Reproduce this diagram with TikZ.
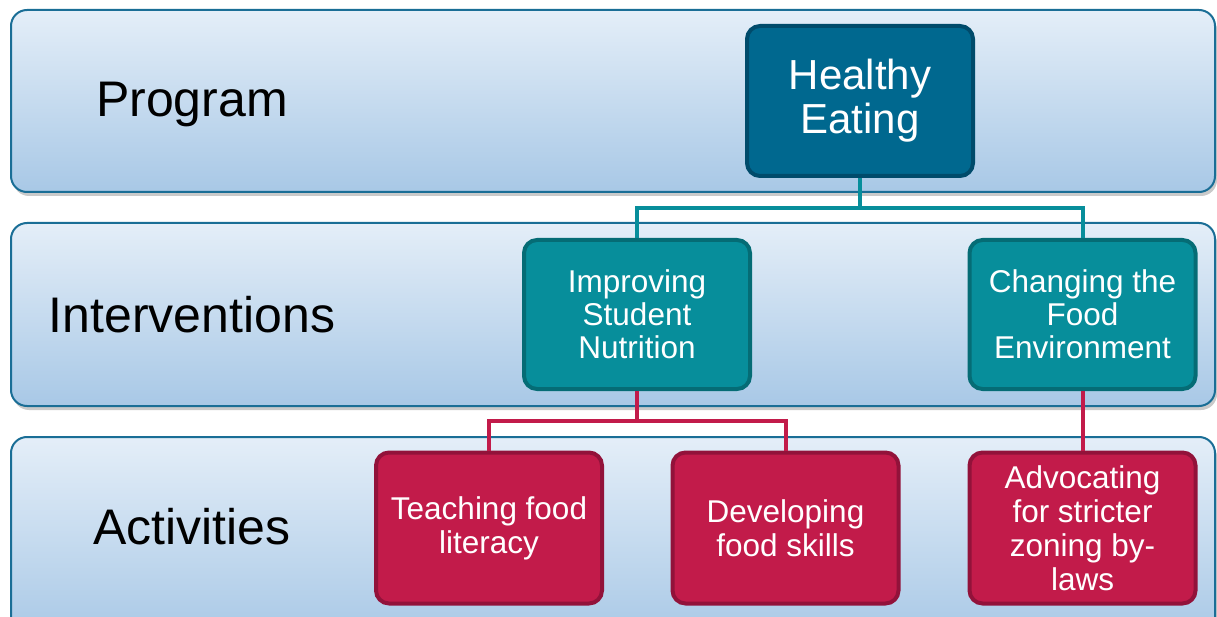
\documentclass[tikz,border=0pt]{standalone}
\usepackage{fontspec}
\setmainfont{Liberation Sans}
\usetikzlibrary{shadows}
\definecolor{bandline}{HTML}{1A6E96}
\definecolor{bandtop}{HTML}{E4EEF8}
\definecolor{bandbot}{HTML}{A8C8E6}
\definecolor{progfill}{HTML}{00688F}
\definecolor{progline}{HTML}{004B6B}
\definecolor{intfill}{HTML}{078E9B}
\definecolor{intline}{HTML}{056C75}
\definecolor{actfill}{HTML}{C21B4A}
\definecolor{actline}{HTML}{92123A}
\tikzset{
  band/.style={draw=bandline, line width=2pt, rounded corners=16pt,
    top color=bandtop, bottom color=bandbot,
    drop shadow={shadow xshift=2pt, shadow yshift=-4pt, opacity=0.35, fill=black!60}},
  bandlabel/.style={anchor=base, font=\fontsize{50}{60}\selectfont, text=black},
  boxnode/.style={rounded corners=13pt, line width=4pt, align=center, text=white,
    minimum width=226pt, inner sep=0pt},
  prognode/.style={boxnode, fill=progfill, draw=progline, minimum height=150pt,
    font=\fontsize{42}{44}\selectfont},
  intnode/.style={boxnode, fill=intfill, draw=intline, minimum height=149pt,
    font=\fontsize{31.5}{33}\selectfont},
  actnode/.style={boxnode, fill=actfill, draw=actline, minimum height=151pt,
    font=\fontsize{31.5}{34}\selectfont},
  intlink/.style={draw=intfill, line width=4pt},
  actlink/.style={draw=actfill, line width=4pt},
}
\begin{document}
\begin{tikzpicture}[x=1pt, y=-1pt]
\useasboundingbox (0,0) rectangle (1217,617);

% three horizontal level bands
\path[band] (11,10) rectangle (1215,192);
\path[band] (11,223) rectangle (1215,406);
\path[band] (11,437) rectangle (1215,640);

% level names
\node[bandlabel] (lprog) at (192,117) {Program};
\node[bandlabel] (lint) at (192,332) {Interventions};
\node[bandlabel] (lact) at (192,544) {Activities};

% hierarchy boxes
\node[prognode] (he) at (860,101) {Healthy\\Eating};
\node[intnode] (isn) at (637,314.5) {Improving\\Student\\Nutrition};
\node[intnode] (cfe) at (1082.5,314.5) {Changing the\\Food\\Environment};
\node[actnode] (tfl) at (489,528) {Teaching food\\literacy};
\node[actnode] (dfs) at (785.5,528) {Developing\\food skills};
\node[actnode] (adv) at (1082.5,528) {Advocating\\for stricter\\zoning by-\\laws};

% connectors
\coordinate (hebar) at ([yshift=-30pt]he.south);
\coordinate (isnbar) at ([yshift=-30pt]isn.south);
\draw[intlink] (he.south) -- (hebar) -| (isn.north);
\draw[intlink] (hebar) -| (cfe.north);
\draw[actlink] (isn.south) -- (isnbar) -| (tfl.north);
\draw[actlink] (isnbar) -| (dfs.north);
\draw[actlink] (cfe.south) -- (adv.north);
\end{tikzpicture}
\end{document}
